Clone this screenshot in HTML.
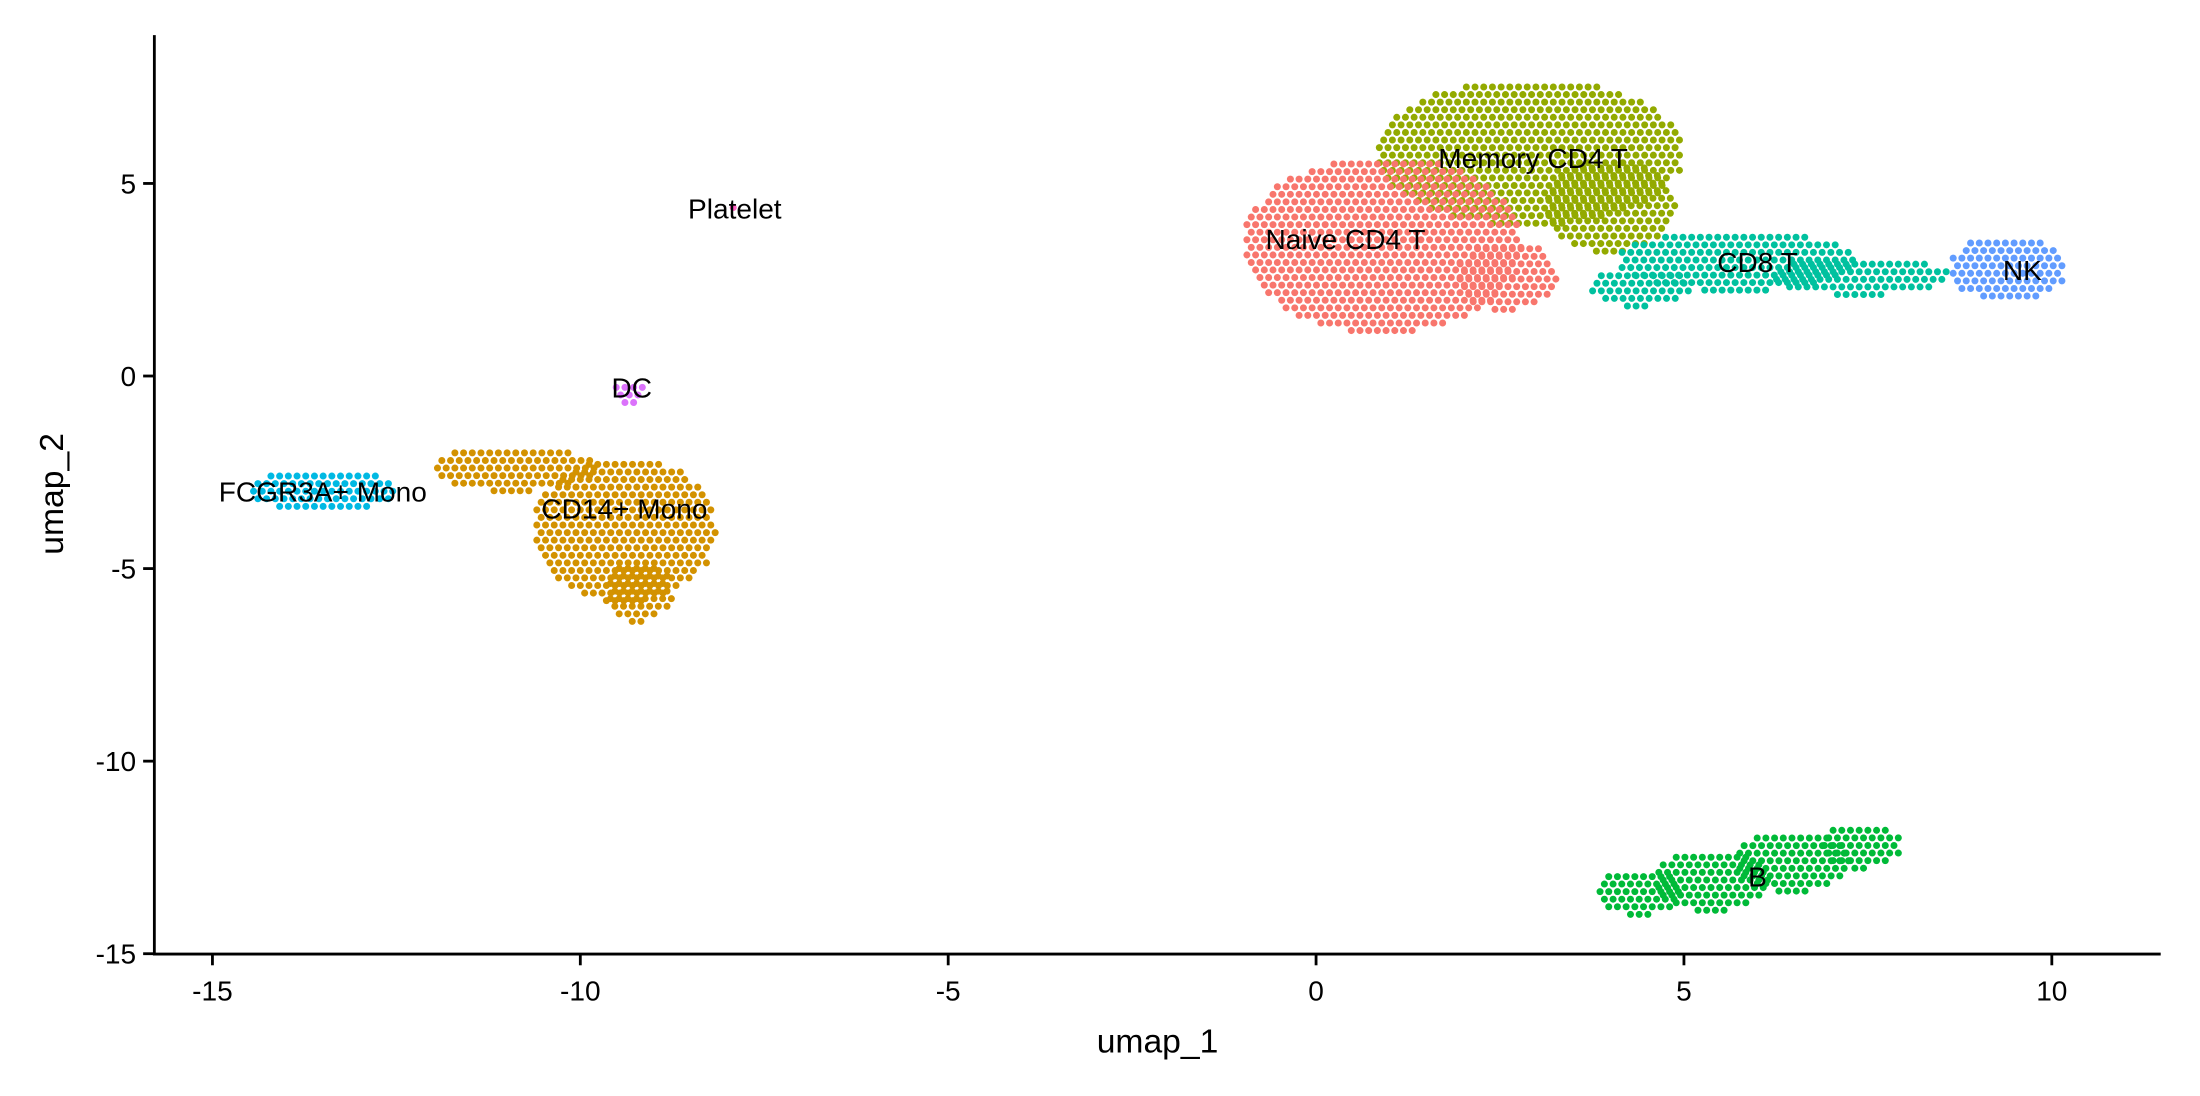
<!DOCTYPE html>
<html><head><meta charset="utf-8"><style>
body{margin:0;background:#fff}
svg text{font-family:"Liberation Sans",Arial,sans-serif}
</style></head><body>
<svg id="chart" width="2200" height="1091" viewBox="0 0 1568 777.6"></svg>
<script>
// Data: cluster regions (data coordinates) in umap space
const clusterNames=["Memory CD4 T","Naive CD4 T","CD8 T","NK","B","CD14+ Mono","FCGR3A+ Mono","DC","Platelet"];
const clusterColors=["#93AA00","#F8766D","#00C19F","#619CFF","#00BA38","#D39200","#00B9E3","#DB72FB","#FF61C3"];
// blobs: [cluster index, cx, cy, rx, ry]
const blobs=[
[0,2.9,5.8,2.1,1.9],[0,4.0,4.4,0.9,1.2],
[1,0.9,3.4,1.9,2.3],[1,2.6,2.6,0.7,0.9],
[2,5.7,3.0,1.6,0.8],[2,7.4,2.6,1.2,0.5],[2,4.4,2.3,0.7,0.5],
[3,9.4,2.8,0.8,0.85],
[4,4.4,-13.4,0.6,0.6],[4,5.4,-13.1,0.8,0.8],[4,6.5,-12.6,0.8,0.8],[4,7.4,-12.2,0.55,0.6],
[5,-9.4,-4.0,1.25,1.9],[5,-10.9,-2.4,1.1,0.6],[5,-9.2,-5.6,0.45,0.8],
[6,-13.5,-2.95,1.0,0.55],
[7,-9.35,-0.45,0.22,0.35],
[8,-7.9,4.45,0.08,0.12]
];
const labelX=[2.95,0.4,6.0,9.6,6.0,-9.4,-13.5,-9.3,-7.9];
const labelY=[5.65,3.55,2.95,2.75,-13.0,-3.45,-3.0,-0.3,4.35];
const xTicks=[-15,-10,-5,0,5,10];
const yTicks=[-15,-10,-5,0,5];

const svg=document.getElementById('chart');
const NS="http://www.w3.org/2000/svg";
const X=v=>938+v*52.44, Y=v=>268-v*27.45;
function mk(t,a,p){const e=document.createElementNS(NS,t);for(const k in a)e.setAttribute(k,a[k]);(p||svg).appendChild(e);return e;}

const gp=mk('g',{});


blobs.forEach((b,bi)=>{
  const [c,cx,cy,rx,ry]=b;
  const px=X(cx),py=Y(cy),prx=Math.max(rx*52.44,3),pry=Math.max(ry*27.45,3);
  const s=6.2;let row=0;let n=0;
  for(let y=py-pry;y<=py+pry;y+=s*0.87,row++){
    for(let x=px-prx+(row%2?s/2:0);x<=px+prx;x+=s){
      const dx=(x-px)/prx,dy=(y-py)/pry;
      if(dx*dx+dy*dy<=1){const e=mk('circle',{cx:x.toFixed(1),cy:y.toFixed(1),r:2.5,fill:clusterColors[c]},gp);
        
        n++;}
    }
  }
  if(n===0){const e=mk('circle',{cx:px,cy:py,r:2.5,fill:clusterColors[c]},gp);
    
    }
});
// axes
const ax=mk('path',{d:'M110,25 V680 H1540',stroke:'#000','stroke-width':2,fill:'none'});


xTicks.forEach(t=>{mk('line',{x1:X(t),x2:X(t),y1:680,y2:688,stroke:'#000','stroke-width':2});
  const e=mk('text',{x:X(t),y:713,'text-anchor':'middle','font-size':20,fill:'#000'});e.textContent=t;
  
  });
yTicks.forEach(t=>{mk('line',{x1:102,x2:110,y1:Y(t),y2:Y(t),stroke:'#000','stroke-width':2});
  const e=mk('text',{x:97,y:Y(t)+7,'text-anchor':'end','font-size':20,fill:'#000'});e.textContent=t;
  
  });
let t=mk('text',{x:825,y:750,'text-anchor':'middle','font-size':24});t.textContent='umap_1';


t=mk('text',{x:45,y:352,'text-anchor':'middle','font-size':24,transform:'rotate(-90 45 352)'});t.textContent='umap_2';


clusterNames.forEach((n,i)=>{const e=mk('text',{x:X(labelX[i]),y:Y(labelY[i])+7,'text-anchor':'middle','font-size':20,fill:'#000'});e.textContent=n;
  
  });
</script>
</body></html>
